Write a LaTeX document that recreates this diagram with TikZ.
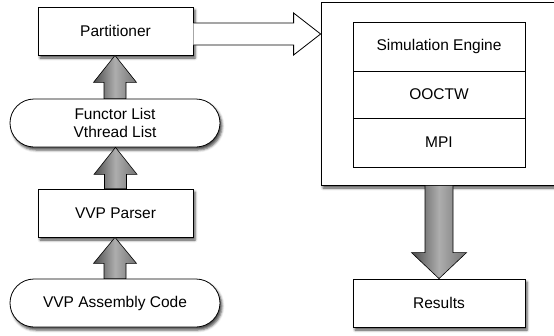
\documentclass[tikz,border=0pt]{standalone}
\usepackage{fontspec}
\setmainfont{Liberation Sans}
\usetikzlibrary{calc,shapes.misc,shadows.blur}
\newcommand{\vfat}[6]{% style, start, tip, half shaft, half head, signed head length
  \path[#1] let \p1=(#2), \p2=(#3) in
    (\x1-#4,\y1) -- (\x1-#4,\y2+#6) -- (\x1-#5,\y2+#6) -- (\x1,\y2)
    -- (\x1+#5,\y2+#6) -- (\x1+#4,\y2+#6) -- (\x1+#4,\y1) -- cycle;}
\begin{document}
\begin{tikzpicture}[x=1pt,y=-1pt,
  every node/.style={font=\fontsize{15.5}{18}\selectfont, align=center, inner sep=0pt},
  box/.style={draw=black, line width=0.8pt, fill=white, rectangle},
  shad/.style={blur shadow={shadow xshift=2pt, shadow yshift=-3pt, shadow blur radius=2.5pt, shadow opacity=70}},
  pill/.style={box, rounded rectangle, rounded rectangle arc length=180},
  fat/.style={draw=black, line width=0.6pt, left color=black!70, right color=black!55, middle color=black!32},
  hollow/.style={draw=black, line width=0.8pt, fill=white}]
\useasboundingbox (0,0) rectangle (554,335);
\clip (0,0) rectangle (554,335);

% left column
\node[box, shad, minimum width=155pt, minimum height=48pt] (part) at (115.5,31) {Partitioner};
\node[pill, shad, minimum width=210pt, minimum height=48pt] (func) at (115,123) {Functor List\\Vthread List};
\node[box, shad, minimum width=155pt, minimum height=48pt] (parser) at (115.5,213) {VVP Parser};
\node[pill, shad, minimum width=210pt, minimum height=48pt] (asm) at (115,303) {VVP Assembly Code};

% right side
\node[box, shad, minimum width=250pt, minimum height=183pt] (big) at (446,93.5) {};
\node[box, minimum width=172pt, minimum height=49pt] (se) at (439,46.5) {Simulation Engine};
\node[box, minimum width=172pt, minimum height=47pt] (ooctw) at (439,94.5) {OOCTW};
\node[box, minimum width=172pt, minimum height=49pt] (mpi) at (439,142.5) {MPI};
\node[box, shad, minimum width=172pt, minimum height=48pt] (res) at (439,303) {Results};

% fat arrows
\vfat{fat}{func.north}{part.south}{11pt}{21.5pt}{-27pt}
\vfat{fat}{parser.north}{func.south}{11pt}{21.5pt}{-27pt}
\vfat{fat}{asm.north}{parser.south}{11pt}{21.5pt}{-26pt}
\coordinate (dstart) at (res.north |- big.south);
\vfat{fat}{dstart}{res.north}{14pt}{27.5pt}{26pt}

% hollow arrow
\coordinate (ha) at ($(part.east)+(0,3)$);
\coordinate (hb) at (big.west |- ha);
\path[hollow] let \p1=(ha), \p2=(hb) in
  (\x1,\y1+11pt) -- (\x2-27pt,\y1+11pt) -- (\x2-27pt,\y1+21pt) -- (\x2,\y1)
  -- (\x2-27pt,\y1-21pt) -- (\x2-27pt,\y1-11pt) -- (\x1,\y1-11pt);
\end{tikzpicture}
\end{document}
